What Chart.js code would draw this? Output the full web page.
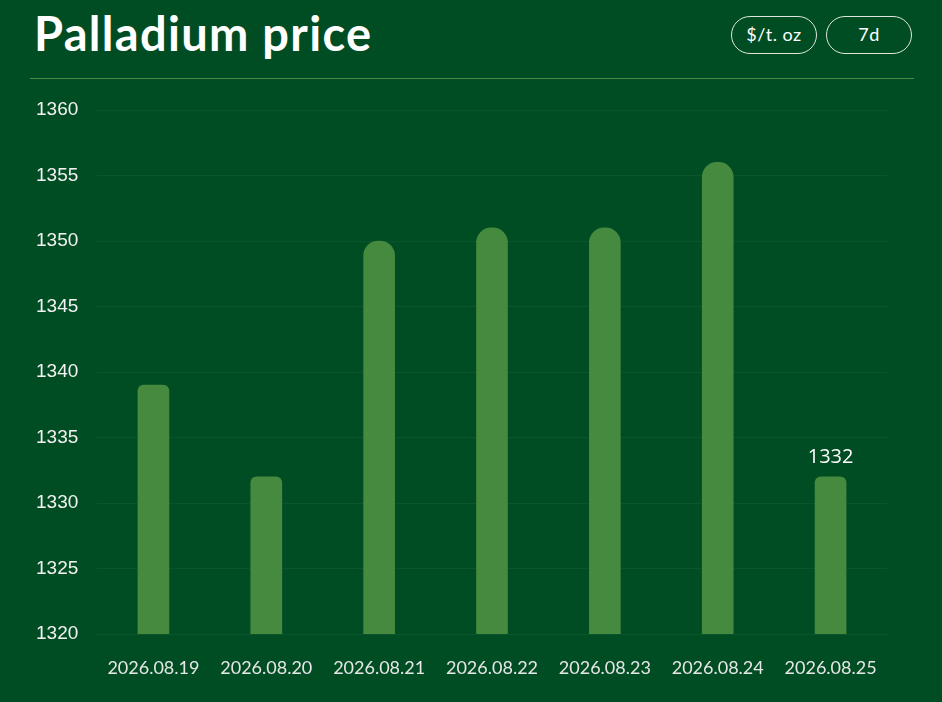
<!DOCTYPE html>
<html>
<head>
<meta charset="utf-8">
<script src="https://cdn.jsdelivr.net/npm/chart.js@4.4.1/dist/chart.umd.min.js"></script>
<style>
  html, body { margin:0; padding:0; background:#004d23; width:942px; height:702px; overflow:hidden; }
  .title { position:absolute; left:34px; top:5px; font-family:"Lato", sans-serif; font-weight:700; font-size:47px; color:#fff; letter-spacing:1.3px; }
  .btn { position:absolute; top:16px; height:38px; border:1.3px solid #dfe6de; border-radius:19px; color:#fff;
         font-family:"Lato", sans-serif; font-weight:400; font-size:18px; text-align:center; box-sizing:border-box; line-height:35px; letter-spacing:0.5px; }
  .sep { position:absolute; left:30px; top:78px; width:884px; height:1px; background:#4e8a41; }
  #wrap { position:absolute; left:0; top:90px; width:942px; height:612px; }
</style>
</head>
<body>
<div class="title">Palladium price</div>
<div class="btn" style="left:731px;width:86px;">$/t. oz</div>
<div class="btn" style="left:826px;width:86px;">7d</div>
<div class="sep"></div>
<div id="wrap"><canvas id="chart"></canvas></div>
<script>
// data
const dates = ['2026.08.19','2026.08.20','2026.08.21','2026.08.22','2026.08.23','2026.08.24','2026.08.25'];
const prices = [1339, 1332, 1350, 1351, 1351, 1356, 1332];
const yTicks = [1320, 1325, 1330, 1335, 1340, 1345, 1350, 1355, 1360];

// label above last bar only
const lastLabel = {
  id: 'lastLabel',
  afterDatasetsDraw(chart) {
    const meta = chart.getDatasetMeta(0);
    const i = prices.length - 1;
    const bar = meta.data[i];
    const ctx = chart.ctx;
    ctx.save();
    ctx.fillStyle = '#ffffff';
    ctx.font = '20px "Open Sans", sans-serif';
    ctx.textAlign = 'center';
    ctx.textBaseline = 'bottom';
    ctx.fillText(String(prices[i]), bar.x, bar.y - 10);
    ctx.restore();
  }
};

new Chart(document.getElementById('chart'), {
  type: 'bar',
  data: {
    labels: dates,
    datasets: [{
      data: prices,
      backgroundColor: '#468a3f',
      barThickness: 31,
      borderSkipped: false,
      borderRadius: c => (c.raw >= 1345 ? 15 : 6)
    }]
  },
  options: {
    responsive: true, maintainAspectRatio: false, animation: false,
    layout: { padding: { left: 36, right: 55, top: 20, bottom: 0 } },
    plugins: { legend: { display: false }, tooltip: { enabled: false } },
    scales: {
      y: {
        min: 1320, max: 1360,
        afterBuildTicks: s => { s.ticks = yTicks.map(v => ({ value: v })); },
        afterFit: s => { s.width = 61; },
        border: { display: false },
        grid: { color: 'rgba(255,255,255,0.045)', drawTicks: false },
        ticks: { color: '#f2f2f2', crossAlign: 'far', padding: 0, callback: v => String(v),
                 font: { family: '"Liberation Sans", Arial, sans-serif', size: 19 } }
      },
      x: {
        afterFit: s => { s.height = 68; },
        border: { display: false },
        grid: { display: false, drawTicks: false },
        ticks: { color: '#e6e6e6', padding: 23, maxRotation: 0, autoSkip: false, font: { family: '"Lato", sans-serif', size: 18 } }
      }
    }
  },
  plugins: [lastLabel]
});
</script>
</body>
</html>
